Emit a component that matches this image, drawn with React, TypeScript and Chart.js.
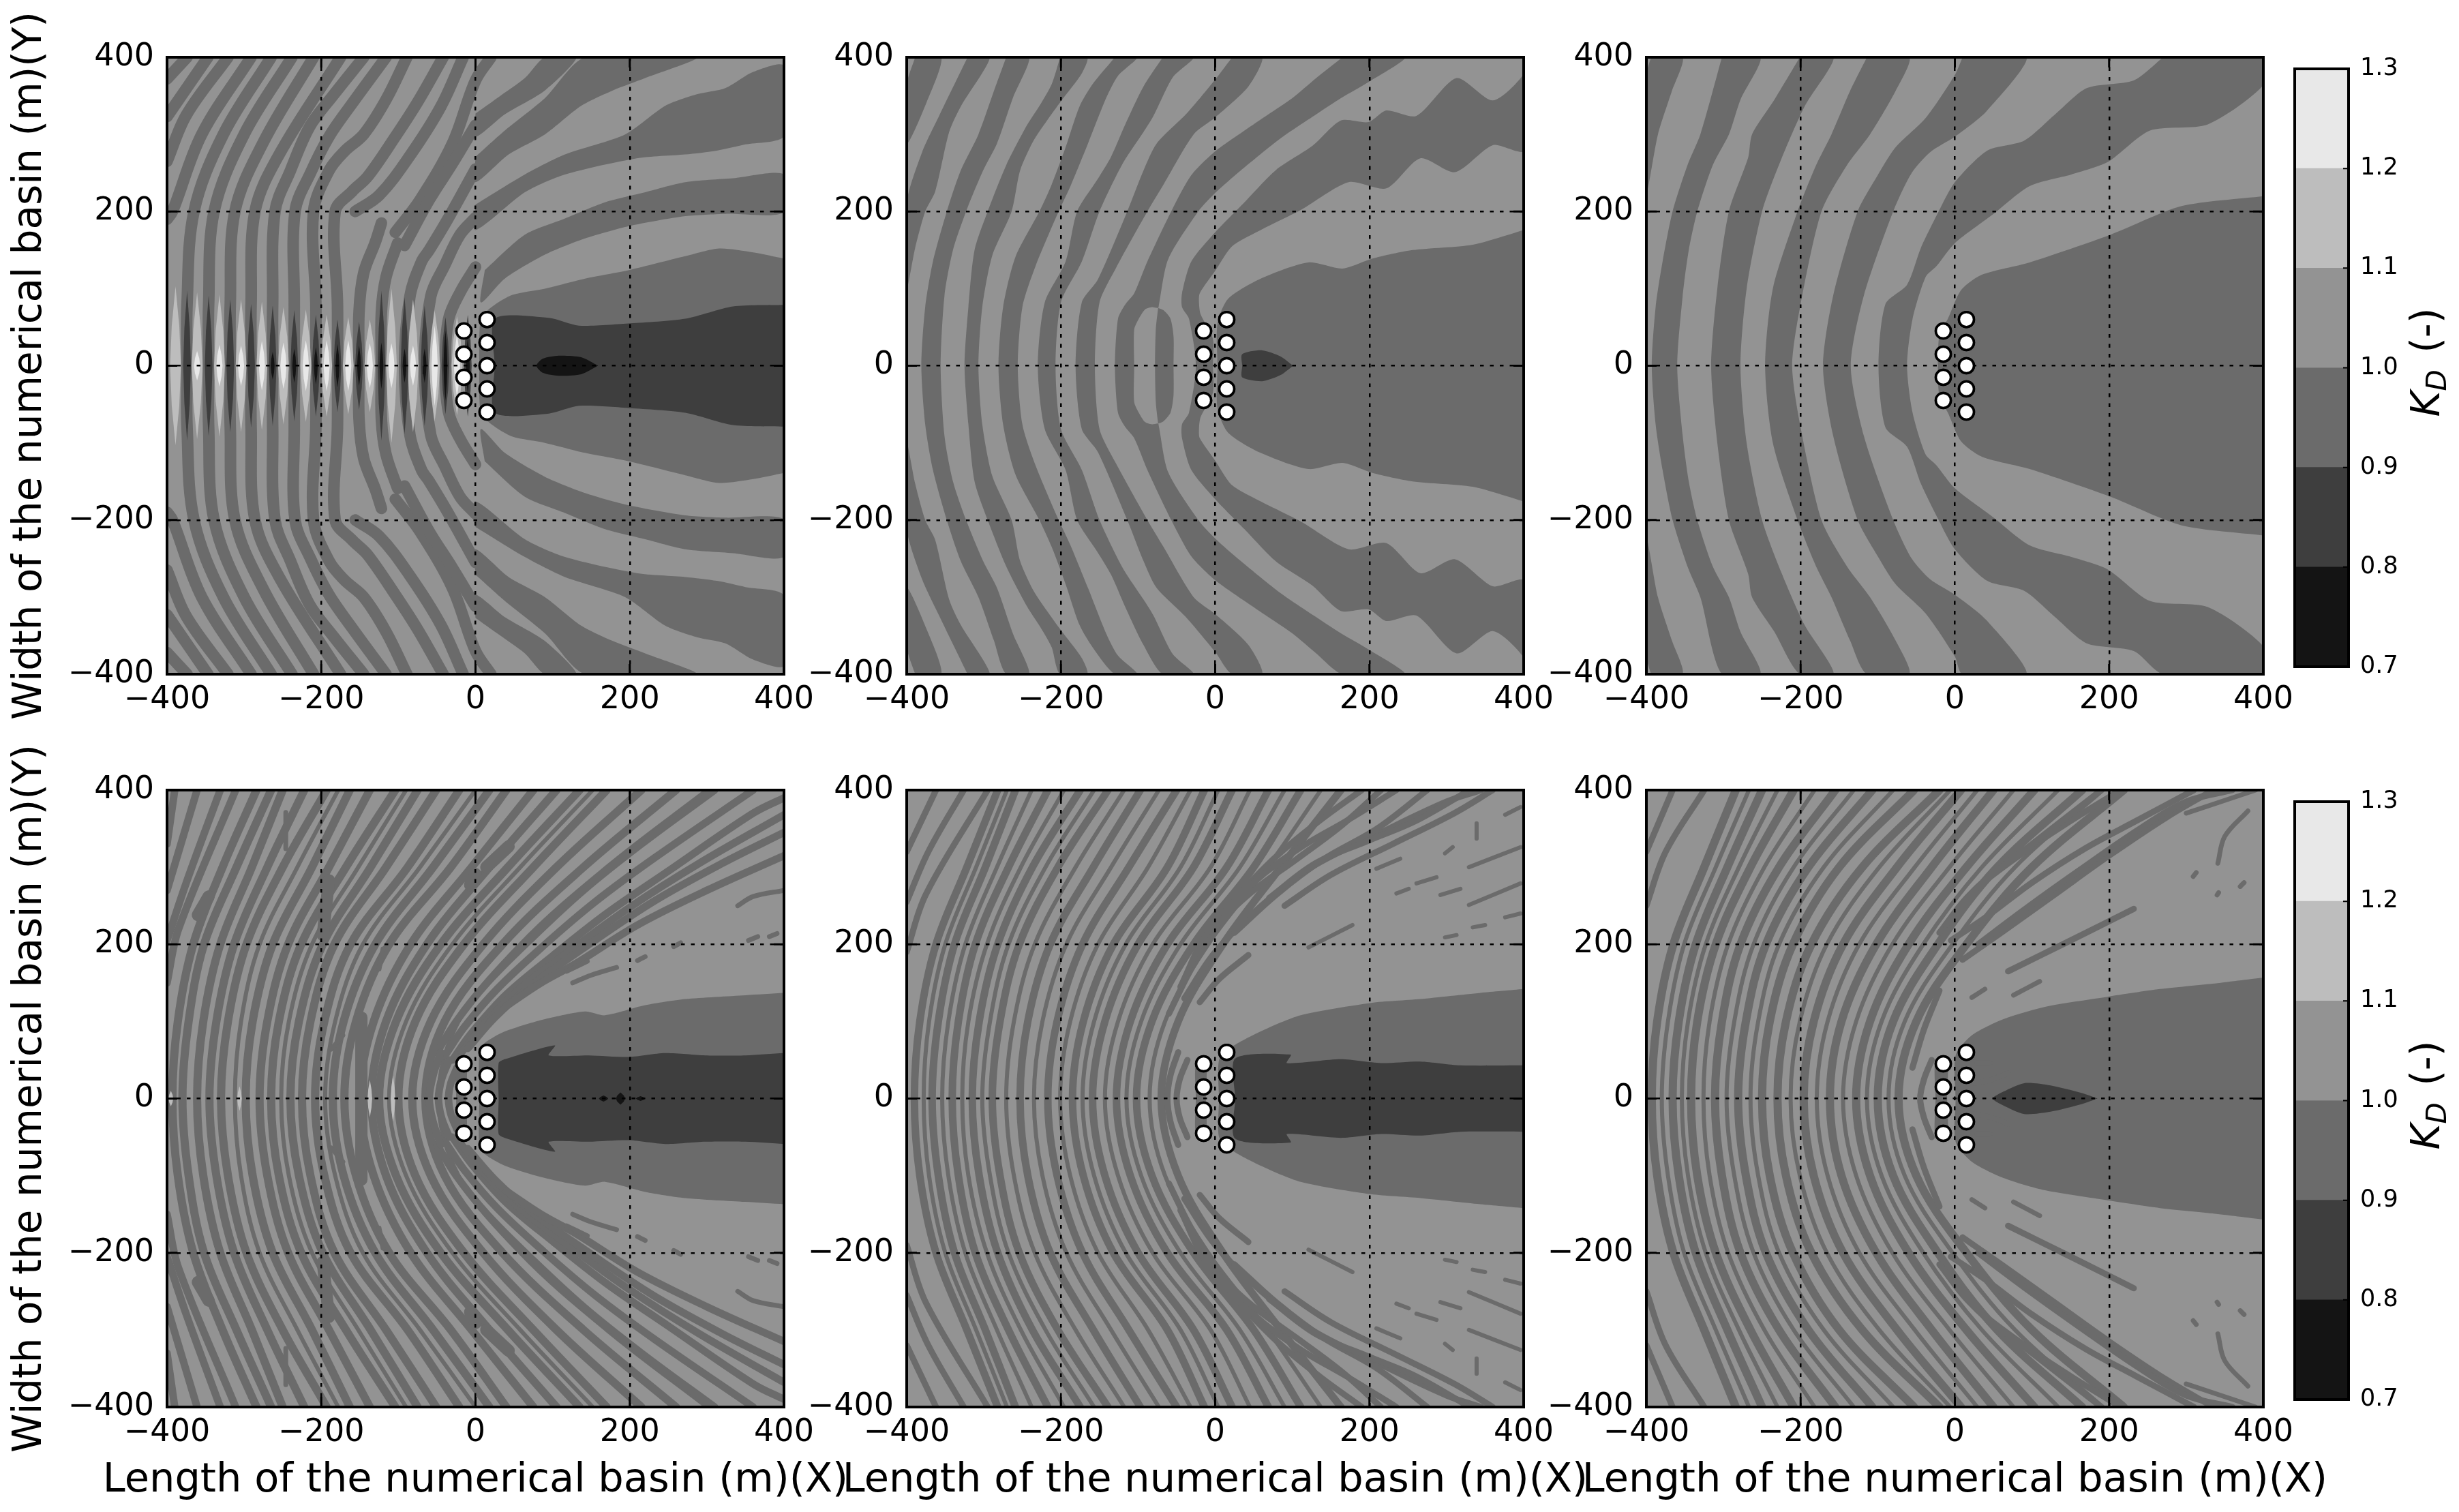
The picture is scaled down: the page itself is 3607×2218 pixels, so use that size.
import { useEffect, useRef } from "react"
import { Chart, registerables } from "chart.js"

Chart.register(...registerables)

type Pt = number[]

// grey levels of the colour bar, low to high
const KD_EDGES = [0.7, 0.8, 0.9, 1.0, 1.1, 1.2, 1.3]
const KD_GREYS = ["#141414", "#3e3e3e", "#6b6b6b", "#939393", "#bdbdbd", "#e8e8e8"]
const AXIS_TICKS = [-400, -200, 0, 200, 400]
const KD_TICKS = [0.7, 0.8, 0.9, 1.0, 1.1, 1.2, 1.3]

const X_TITLE = "Length of the numerical basin (m)(X)"
const Y_TITLE = "Width of the numerical basin (m)(Y)"

// turbines
const TURBINES = [
  [-15, 45], [-15, 15], [-15, -15], [-15, -45],
  [15, 60], [15, 30], [15, 0], [15, -30], [15, -60],
]

// upper half only, the field is symmetric about y = 0
// panel 3: left edge / right edge of each dark band
const P3_BANDS: Pt[][][] = [
  [[[-394, 400], [-400, 377]], [[-353, 400], [-367, 356], [-385, 300], [-400, 224]]],
  [[[-393, 0], [-388, 76], [-379, 135], [-366, 200], [-346, 262], [-330, 300], [-302, 400]],
   [[-360, 0], [-353, 90], [-345, 150], [-334, 200], [-314, 260], [-293, 300], [-278, 345], [-252, 400]]],
  [[[-316, 0], [-308, 100], [-293, 200], [-268, 270], [-263, 300], [-234, 345], [-201, 400]],
   [[-278, 0], [-270, 100], [-250, 200], [-225, 268], [-195, 336], [-157, 400]]],
  [[[-246, 0], [-236, 100], [-204, 200], [-180, 260], [-160, 300], [-136, 356], [-114, 400]],
   [[-211, 0], [-200, 80], [-173, 200], [-140, 260], [-110, 300], [-77, 356], [-59, 400]]],
  [[[-171, 0], [-158, 90], [-126, 200], [-100, 247], [-77, 283], [-38, 321], [0, 377], [10, 400]],
   [[-135, 0], [-118, 91], [-80, 200], [-56, 250], [-32, 277], [0, 297], [41, 330], [93, 400]]],
  [[[-99, 0], [-90, 80], [-62, 105], [-44, 153], [-21, 200], [0, 238], [42, 279], [90, 292], [130, 326], [171, 360], [232, 370], [270, 400]],
   [[-62, 0], [-55, 60], [-38, 115], [-24, 129], [0, 159], [49, 196], [97, 233], [151, 248], [198, 264], [253, 305], [328, 313], [400, 364], [400, 400]]],
  [[[-22, 0], [-20, 40], [-9, 61], [8, 98], [35, 118], [97, 134], [202, 170], [294, 207], [400, 220]], [[400, 0], [400, 220]]],
]

// panel 2
const P2_BANDS: Pt[][][] = [
  [[[-389, 400], [-400, 365]], [[-355, 400], [-374, 342], [-400, 288]]],
  [[[-321, 400], [-358, 324], [-380, 277], [-400, 212]], [[-292, 400], [-330, 336], [-345, 303], [-363, 226], [-376, 200], [-389, 153], [-400, 100]]],
  [[[-381, 0], [-376, 76], [-366, 135], [-348, 200], [-330, 253], [-307, 300], [-287, 356], [-271, 400]],
   [[-356, 0], [-351, 91], [-340, 150], [-323, 200], [-301, 253], [-283, 288], [-262, 348], [-241, 400]]],
  [[[-325, 0], [-320, 76], [-312, 150], [-295, 200], [-271, 260], [-244, 312], [-226, 340], [-212, 365], [-201, 400]],
   [[-307, 0], [-302, 76], [-289, 143], [-264, 200], [-253, 253], [-236, 291], [-218, 318], [-200, 343], [-173, 379], [-166, 400]]],
  [[[-281, 0], [-275, 76], [-259, 141], [-228, 200], [-212, 235], [-194, 283], [-176, 336], [-159, 365], [-130, 400]],
   [[-256, 0], [-250, 76], [-233, 129], [-203, 200], [-188, 232], [-165, 288], [-141, 348], [-126, 376], [-101, 400]]],
  [[[-230, 0], [-221, 82], [-194, 135], [-179, 200], [-153, 241], [-135, 271], [-117, 312], [-93, 362], [-68, 400]],
   [[-207, 0], [-200, 82], [-173, 135], [-150, 200], [-120, 262], [-93, 303], [-80, 324], [-55, 374], [-28, 400]]],
  [[[-181, 0], [-173, 82], [-152, 112], [-114, 200], [-93, 253], [-76, 288], [-37, 327], [0, 371], [22, 400]],
   [[-156, 0], [-150, 82], [-129, 126], [-88, 200], [-67, 235], [-28, 300], [0, 322], [43, 362], [61, 400]]],
  [[[-130, 0], [-126, 61], [-117, 79], [-105, 94], [-88, 135], [-57, 200], [-31, 247], [0, 278], [38, 305], [69, 326], [100, 347], [131, 373], [165, 400]],
   [[-105, 0], [-105, 47], [-99, 61], [-91, 73], [-82, 76], [-74, 75], [-73, 79], [-61, 138], [-22, 200], [0, 224], [33, 253], [85, 295], [131, 326], [163, 347], [199, 368], [246, 400]]],
  [[[-78, 0], [-77, 47], [-74, 75]], [[-54, 0], [-54, 38], [-58, 61], [-67, 72], [-74, 75]]],
  [[[-25, 0], [-34, 61], [-43, 76], [-43, 94], [-31, 135], [0, 173], [38, 212], [79, 254], [126, 285], [163, 318], [199, 316], [222, 331], [261, 324], [313, 373], [360, 344], [400, 378], [400, 400]],
   [[-3, 0], [-3, 35], [-19, 67], [-21, 82], [-20, 94], [0, 123], [22, 155], [59, 176], [111, 202], [173, 238], [222, 230], [266, 269], [311, 251], [360, 286], [400, 279]]],
  [[[3, 0], [3, 55], [17, 87], [59, 113], [121, 134], [165, 126], [204, 139], [256, 150], [334, 157], [400, 176]], [[400, 0], [400, 176]]],
]
const P2_CORE: Pt[][][] = [
  [[[35, 0], [35, 15], [61, 20], [85, 12], [101, 0]], [[101, 0]]],
]

// panel 1: stripe centre lines on the left, bands on the right
const P1_STRIPES: Pt[][] = [
  [[-400, 372], [-374, 400]],
  [[-400, 323], [-347, 400]],
  [[-400, 265], [-375, 325], [-321, 400]],
  [[-400, 190], [-393, 200], [-355, 300], [-291, 400]],
  [[-374, 0], [-374, 80], [-365, 200], [-327, 300], [-265, 400]],
  [[-346, 0], [-346, 80], [-339, 200], [-300, 300], [-238, 400]],
  [[-318, 0], [-318, 80], [-312, 200], [-275, 290], [-210, 400]],
  [[-291, 0], [-291, 80], [-286, 200], [-254, 275], [-175, 400]],
  [[-263, 0], [-263, 80], [-260, 200], [-240, 253], [-215, 310], [-185, 350], [-145, 400]],
  [[-235, 0], [-235, 80], [-234, 200], [-214, 250], [-190, 297], [-160, 340], [-116, 400]],
  [[-207, 0], [-207, 80], [-210, 200], [-190, 253], [-170, 278], [-145, 300], [-116, 345], [-89, 400]],
  [[-179, 0], [-179, 80], [-182, 200], [-160, 226], [-140, 245], [-104, 297], [-75, 342], [-42, 400]],
  [[-151, 0], [-151, 70], [-145, 120], [-130, 160], [-122, 185]],
  [[-122, 0], [-122, 70], [-116, 115], [-101, 159]],
  [[-156, 200], [-125, 221], [-86, 271], [-45, 336], [-16, 400]],
  [[-104, 173], [-72, 215], [-30, 288], [0, 370], [20, 400]],
  [[-92, 156], [-60, 215], [-30, 262], [0, 312]],
  [[-92, 0], [-85, 90], [-70, 135], [-60, 150], [-36, 190], [0, 255]],
  [[-66, 0], [-58, 90], [-40, 130], [-20, 170], [0, 192]],
  [[-39, 0], [-35, 60], [-20, 95], [0, 128]],
]
const P1_BANDS: Pt[][][] = [
  [[[0, 327], [28, 347], [64, 373], [90, 400]], [[0, 297], [38, 326], [90, 357], [131, 400]]],
  [[[0, 271], [38, 305], [90, 347], [142, 400]], [[0, 238], [43, 274], [90, 300], [137, 337], [178, 357], [220, 373], [287, 400]]],
  [[[0, 209], [64, 248], [116, 274], [194, 300], [246, 337], [287, 352], [324, 360], [360, 381], [400, 389]],
   [[0, 176], [64, 225], [116, 248], [209, 269], [272, 274], [313, 279], [350, 287], [400, 298]]],
  [[[12, 124], [64, 170], [116, 191], [168, 212], [220, 225], [272, 238], [334, 243], [400, 248]],
   [[7, 82], [38, 113], [90, 144], [142, 165], [199, 181], [272, 194], [324, 197], [400, 199]]],
  [[[5, 0], [7, 61], [22, 77], [48, 92], [90, 100], [142, 113], [199, 124], [272, 142], [316, 152], [360, 147], [400, 139]], [[400, 0], [400, 139]]],
]
const P1_WAKE: Pt[][][] = [
  [[[25, 0], [25, 61], [95, 62], [134, 52], [201, 55], [272, 61], [334, 77], [400, 79]], [[400, 0], [400, 79]]],
]
const P1_CORE: Pt[][][] = [
  [[[79, 0], [87, 9], [108, 13], [137, 11], [159, 0]], [[159, 0]]],
]
// interference spindles on the weather side of panel 1: centre x, tip y
const P1_LIGHT_X = [-389, -361, -332, -304, -277, -249, -220, -193, -165, -137, -109, -81, -53, -24]
const P1_LIGHT_TIP = [103, 95, 92, 86, 83, 76, 73, 66, 63, 60, 100, 86, 72, 64]
const P1_WHITE_X = [-361, -332, -304, -277, -249, -220, -193, -165, -137, -109, -81, -53, -24]
const P1_WHITE_TIP = [19, 27, 26, 32, 30, 33, 33, 33, 29, 29, 26, 52, 41]
const P1_DARK_X = [-374, -346, -318, -291, -263, -235, -207, -179, -151, -122, -92, -66, -39, -10]
const P1_DARK_TIP = [97, 91, 86, 80, 78, 72, 66, 60, 57, 97, 89, 78, 63, 66]
const P1_BLACK_X = [-263, -235, -207, -179, -151, -122, -92, -66, -39, -10]
const P1_BLACK_TIP = [18, 22, 24, 28, 26, 30, 22, 22, 45, 36]

// bottom row: x of a stripe where it crosses y = 0, 100, 200, 300, 400
const ROW_Y = [0, 100, 200, 300, 400]
const P4_ROWS = [
  [-393, -386, -366, -328, -284],
  [-380, -372, -352, -310, -265],
  [-361, -353, -331, -290, -250],
  [-345, -336, -313, -270, -222],
  [-330, -321, -297, -250, -193],
  [-298, -289, -263, -212, -163],
  [-280, -270, -243, -190, -137],
  [-265, -255, -226, -168, -104],
  [-240, -229, -198, -136, -75],
  [-225, -214, -183, -116, -51],
  [-208, -196, -162, -88, -21],
  [-185, -171, -130, -55, 18],
  [-170, -155, -112, -32, 40],
  [-150, -132, -84, -5, 75],
  [-135, -116, -63, 18, 105],
  [-125, -103, -45, 42, 135],
  [-100, -78, -15, 75, 170],
  [-82, -58, 10, 105, 215],
  [-65, -40, 35, 140, 260],
]
const P4_THIN_ROWS = [
  [-312, -304, -280, -231, -178],
  [-252, -242, -212, -152, -90],
  [-195, -182, -146, -72, 0],
  [-112, -90, -30, 58, 152],
  [-48, -22, 58, 170, 300],
]
const P4_FAN: Pt[][] = [
  [[-400, 330], [-390, 400]],
  [[-400, 270], [-361, 400]],
  [[-400, 205], [-375, 280], [-331, 400]],
  [[-400, 150], [-385, 220], [-311, 400]],
  [[-50, 60], [-25, 100], [15, 150], [75, 210], [140, 270], [215, 330], [310, 400]],
  [[-40, 55], [-15, 92], [28, 142], [88, 198], [155, 255], [232, 312], [360, 400]],
  [[-30, 50], [-5, 85], [40, 135], [100, 185], [170, 240], [250, 295], [360, 370], [400, 390]],
  [[-18, 60], [10, 95], [55, 140], [120, 190], [200, 248], [290, 305], [400, 368]],
  [[-10, 65], [25, 105], [70, 145], [140, 195], [230, 255], [320, 305], [400, 345]],
  [[40, 120], [85, 150], [130, 175], [210, 225], [300, 270], [400, 315]],
  [[-60, 0], [-55, 30], [-45, 60]],
  [[-48, 0], [-44, 25], [-34, 50]],
  [[-35, 0], [-32, 20], [-24, 40]],
]
const P4_DASHES: Pt[][] = [
  [[126, 150], [150, 160], [183, 170]],
  [[118, 165], [145, 178]],
  [[210, 179], [220, 184]],
  [[257, 197], [266, 202]],
  [[354, 205], [366, 210]],
  [[381, 210], [391, 214]],
  [[340, 250], [360, 262], [400, 270]],
  [[-246, 324], [-246, 371]],
  [[-187, 64], [-172, 82]],
  [[-125, 168], [-120, 194]],
]
const P4_THICK: Pt[][] = [
  [[-360, 238], [-346, 262]],
  [[-198, 212], [-190, 283]],
  [[-148, 0], [-148, 105]],
  [[-7, 277], [0, 291]],
  [[14, 300], [43, 327]],
]
const P4_WAKE_A: Pt[][][] = [
  [[[-25, 0], [-25, 50], [-12, 55], [-12, 0]], [[-12, 0]]],
  [[[5, 0], [5, 60], [12, 72], [38, 87], [90, 103], [142, 113], [168, 108], [220, 121], [272, 129], [350, 134], [400, 137]], [[400, 0], [400, 137]]],
]
const P4_WAKE_B: Pt[][][] = [
  [[[30, 0], [30, 46], [38, 51], [103, 69], [95, 56], [147, 56], [199, 54], [246, 59], [298, 56], [350, 56], [400, 59]], [[400, 0], [400, 59]]],
]

const P5_ROWS = [
  [-390, -383, -362, -322, -282],
  [-367, -359, -338, -298, -259],
  [-341, -333, -311, -268, -217],
  [-315, -306, -282, -237, -175],
  [-289, -279, -254, -204, -139],
  [-253, -243, -214, -158, -97],
  [-217, -205, -172, -112, -50],
  [-185, -171, -132, -62, -14],
  [-159, -143, -100, -28, 22],
  [-128, -110, -62, 15, 69],
  [-102, -82, -28, 50, 111],
  [-70, -48, 10, 85, 163],
]
const P5_THIN_ROWS = [
  [-378, -371, -350, -310, -270],
  [-354, -346, -324, -283, -238],
  [-328, -320, -296, -252, -196],
  [-302, -292, -268, -220, -157],
  [-271, -261, -234, -181, -118],
  [-235, -224, -193, -135, -73],
  [-201, -188, -152, -87, -32],
  [-172, -157, -116, -45, 4],
  [-143, -126, -81, -6, 45],
  [-115, -96, -45, 32, 90],
  [-85, -65, -9, 68, 137],
]
const P5_FAN: Pt[][] = [
  [[-400, 320], [-362, 400]],
  [[-400, 255], [-372, 320], [-326, 400]],
  [[-400, 190], [-375, 265], [-295, 400]],
  [[-60, 110], [-30, 170], [20, 250], [75, 310], [135, 360], [190, 400]],
  [[-45, 145], [-10, 215], [50, 280], [110, 325], [170, 360], [235, 400]],
  [[-40, 130], [0, 190], [60, 250], [125, 300], [215, 345], [300, 385], [345, 400]],
  [[0, 225], [50, 270], [105, 310], [165, 355], [215, 400]],
  [[25, 215], [80, 265], [140, 310], [210, 350], [275, 400]],
  [[70, 260], [130, 305], [200, 335], [260, 360], [330, 400]],
  [[90, 250], [150, 290], [230, 330], [310, 370], [360, 400]],
  [[-20, 125], [5, 155], [43, 186]],
  [[-50, 0], [-46, 25], [-36, 50]],
  [[-62, 0], [-58, 30], [-48, 60]],
]
const P5_DASHES: Pt[][] = [
  [[121, 196], [178, 225]],
  [[298, 209], [313, 212]],
  [[334, 222], [350, 225]],
  [[376, 235], [396, 240]],
  [[329, 251], [396, 279]],
  [[292, 264], [318, 272]],
  [[235, 266], [251, 272]],
  [[261, 279], [287, 287]],
  [[209, 298], [240, 311]],
  [[329, 300], [396, 326]],
  [[298, 318], [308, 326]],
  [[339, 337], [339, 357]],
  [[376, 368], [396, 378]],
]
const P5_WAKE_A: Pt[][][] = [
  [[[-25, 0], [-25, 45], [-12, 50], [-12, 0]], [[-12, 0]]],
  [[[5, 0], [5, 50], [20, 66], [59, 87], [111, 108], [202, 124], [266, 129], [344, 137], [400, 142]], [[400, 0], [400, 142]]],
]
const P5_WAKE_B: Pt[][][] = [
  [[[26, 0], [26, 52], [98, 57], [93, 46], [163, 51], [215, 46], [266, 48], [318, 43], [400, 43]], [[400, 0], [400, 43]]],
]

const P6_ROWS = [
  [-393, -386, -365, -325, -284],
  [-366, -358, -336, -295, -250],
  [-342, -334, -310, -265, -209],
  [-311, -302, -278, -228, -155],
  [-281, -271, -245, -190, -107],
  [-250, -240, -210, -150, -53],
  [-230, -219, -186, -120, -20],
  [-196, -183, -145, -75, 8],
  [-162, -147, -102, -30, 50],
  [-128, -110, -60, 15, 103],
  [-100, -80, -22, 55, 165],
  [-73, -50, 15, 100, 219],
]
const P6_THIN_ROWS = [
  [-380, -372, -351, -310, -267],
  [-354, -346, -323, -280, -230],
  [-326, -318, -294, -247, -182],
  [-296, -286, -261, -209, -131],
  [-265, -255, -228, -170, -80],
  [-213, -201, -166, -98, -6],
  [-179, -165, -124, -52, 29],
  [-145, -128, -81, -7, 76],
  [-114, -95, -41, 35, 134],
  [-86, -65, -3, 78, 192],
]
const P6_FAN: Pt[][] = [
  [[-400, 320], [-366, 400]],
  [[-400, 250], [-375, 320], [-325, 400]],
  [[-20, 215], [20, 265], [90, 320], [150, 360], [215, 400]],
  [[-12, 225], [30, 275], [100, 330], [190, 400]],
  [[-5, 205], [40, 235], [100, 280], [170, 325], [235, 360], [310, 400]],
  [[10, 180], [60, 215], [130, 265], [200, 315], [275, 365], [335, 400]],
  [[30, 200], [90, 245], [160, 295], [240, 350], [300, 385], [360, 400]],
  [[69, 165], [150, 205], [232, 246]],
  [[-55, 40], [-40, 90], [-20, 140]],
  [[-45, 0], [-40, 25], [-30, 50]],
]
const P6_DASHES: Pt[][] = [
  [[22, 131], [39, 142]],
  [[76, 134], [110, 152]],
  [[300, 370], [345, 385], [390, 400]],
  [[341, 305], [350, 340], [380, 373]],
  [[370, 275], [375, 280]],
  [[340, 264], [342, 267]],
  [[309, 288], [313, 293]],
]
const P6_WAKE_A: Pt[][][] = [
  [[[-25, 0], [-25, 50], [-10, 55], [-10, 0]], [[-10, 0]]],
  [[[1, 0], [1, 56], [22, 82], [63, 103], [117, 119], [198, 132], [266, 142], [334, 149], [400, 157]], [[400, 0], [400, 157]]],
]
const P6_WAKE_B: Pt[][][] = [
  [[[49, 0], [63, 9], [90, 20], [124, 17], [165, 7], [185, 0]], [[185, 0]]],
]
const P6_FINGERS: Pt[][] = [
  [[25, 20], [49, 25], [69, 33]],
  [[29, 46], [45, 46]],
]
// small light and black marks in the bottom row: x, tip y
const P4_LIGHT_X = [-306, -137, -107, -395]
const P4_LIGHT_TIP = [16, 24, 30, 10]
const P4_BLACK_X = [166, 188, 214]
const P4_BLACK_TIP = [4, 8, 3]

const flip = (p: Pt) => [p[0], -p[1]]
const rev = (a: Pt[]) => [...a].reverse()
const xy = (a: Pt[]) => a.map((p) => ({ x: p[0], y: p[1] }))

function areaSet(pts: Pt[], color: string) {
  return {
    data: xy(pts),
    showLine: true,
    fill: "shape",
    backgroundColor: color,
    borderColor: color,
    borderWidth: 0,
    pointRadius: 0,
    tension: 0.25,
    clip: 0,
  }
}

function strokeSet(pts: Pt[], color: string, width: number) {
  return {
    data: xy(pts),
    showLine: true,
    fill: false,
    borderColor: color,
    borderWidth: width,
    borderCapStyle: "round",
    borderJoinStyle: "round",
    pointRadius: 0,
    tension: 0.35,
    clip: 0,
  }
}

function bandSets(bands: Pt[][][], color: string) {
  const out: any[] = []
  for (const [l, r] of bands) {
    if (l[0][1] === 0) {
      const path = [...rev(l), ...l.slice(1).map(flip), ...rev(r.slice(1)).map(flip), ...r]
      path.push(path[0])
      out.push(areaSet(path, color))
    } else {
      const path = [...l, ...rev(r)]
      path.push(path[0])
      out.push(areaSet(path, color), areaSet(path.map(flip), color))
    }
  }
  return out
}

function lineSets(paths: Pt[][], color: string, width: number) {
  const out: any[] = []
  for (const p of paths) {
    if (p[0][1] === 0) out.push(strokeSet([...rev(p), ...p.slice(1).map(flip)], color, width))
    else out.push(strokeSet(p, color, width), strokeSet(p.map(flip), color, width))
  }
  return out
}

const rowPaths = (rows: number[][]) => rows.map((r) => r.map((x, i) => [x, ROW_Y[i]]))

function spindles(xs: number[], tips: number[], halfWidth: number, color: string) {
  return xs.map((x, i) => {
    const t = tips[i]
    const set = areaSet(
      [
        [x - halfWidth, 0], [x - halfWidth * 0.7, t * 0.5], [x, t], [x + halfWidth * 0.7, t * 0.5], [x + halfWidth, 0],
        [x + halfWidth * 0.7, -t * 0.5], [x, -t], [x - halfWidth * 0.7, -t * 0.5], [x - halfWidth, 0],
      ],
      color,
    )
    set.tension = 0
    return set
  })
}

const [G7, G8, G9, , G11, G12] = KD_GREYS

const PANEL_SETS: (() => any[])[] = [
  () => [
    ...lineSets(P1_STRIPES, G9, 17),
    ...bandSets(P1_BANDS, G9),
    ...bandSets(P1_WAKE, G8),
    ...bandSets(P1_CORE, G7),
    ...spindles(P1_LIGHT_X, P1_LIGHT_TIP, 7, G11),
    ...spindles(P1_WHITE_X, P1_WHITE_TIP, 4, G12),
    ...spindles(P1_DARK_X, P1_DARK_TIP, 5, G8),
    ...spindles(P1_BLACK_X, P1_BLACK_TIP, 2.5, G7),
  ],
  () => [...bandSets(P2_BANDS, G9), ...bandSets(P2_CORE, G8)],
  () => bandSets(P3_BANDS, G9),
  () => [
    ...lineSets(rowPaths(P4_ROWS), G9, 12),
    ...lineSets(rowPaths(P4_THIN_ROWS), G9, 6),
    ...lineSets(P4_FAN, G9, 11),
    ...lineSets(P4_DASHES, G9, 7),
    ...lineSets(P4_THICK, G9, 18),
    ...bandSets(P4_WAKE_A, G9),
    ...bandSets(P4_WAKE_B, G8),
    ...spindles(P4_LIGHT_X, P4_LIGHT_TIP, 3, G11),
    ...spindles(P4_BLACK_X, P4_BLACK_TIP, 6, G7),
  ],
  () => [
    ...lineSets(rowPaths(P5_ROWS), G9, 11),
    ...lineSets(rowPaths(P5_THIN_ROWS), G9, 6),
    ...lineSets(P5_FAN, G9, 9),
    ...lineSets(P5_DASHES, G9, 6),
    ...bandSets(P5_WAKE_A, G9),
    ...bandSets(P5_WAKE_B, G8),
  ],
  () => [
    ...lineSets(rowPaths(P6_ROWS), G9, 12),
    ...lineSets(rowPaths(P6_THIN_ROWS), G9, 6),
    ...lineSets(P6_FAN, G9, 9),
    ...lineSets(P6_DASHES, G9, 7),
    ...bandSets(P6_WAKE_A, G9),
    ...bandSets(P6_WAKE_B, G8),
    ...lineSets(P6_FINGERS, G9, 8),
  ],
]

// frame, inward ticks, pale field, x title, and turbines back on top of the grid
const panelDecor = {
  id: "panelDecor",
  beforeDatasetsDraw(chart: any) {
    const { ctx, chartArea: a } = chart
    ctx.save()
    ctx.fillStyle = KD_GREYS[3]
    ctx.fillRect(a.left, a.top, a.width, a.height)
    ctx.restore()
  },
  afterDraw(chart: any, _args: any, opts: any) {
    const { ctx, chartArea: a, scales } = chart
    const last = chart.data.datasets.length - 1
    chart.getDatasetMeta(last).controller.draw()
    ctx.save()
    ctx.strokeStyle = "#000"
    ctx.lineWidth = 3
    ctx.beginPath()
    for (const t of AXIS_TICKS) {
      const px = scales.x.getPixelForValue(t)
      const py = scales.y.getPixelForValue(t)
      ctx.moveTo(px, a.top)
      ctx.lineTo(px, a.top + 15)
      ctx.moveTo(px, a.bottom)
      ctx.lineTo(px, a.bottom - 15)
      ctx.moveTo(a.left, py)
      ctx.lineTo(a.left + 15, py)
      ctx.moveTo(a.right, py)
      ctx.lineTo(a.right - 15, py)
    }
    ctx.stroke()
    ctx.lineWidth = 4
    ctx.strokeRect(a.left, a.top, a.width, a.height)
    if (opts.xTitle) {
      ctx.fillStyle = "#000"
      ctx.font = '59px "DejaVu Sans"'
      ctx.textAlign = "center"
      ctx.textBaseline = "middle"
      ctx.fillText(opts.xTitle, (a.left + a.right) / 2, chart.height - 45)
    }
    ctx.restore()
  },
}

const barDecor = {
  id: "barDecor",
  afterDraw(chart: any) {
    const { ctx, chartArea: a, scales } = chart
    ctx.save()
    ctx.strokeStyle = "#000"
    ctx.lineWidth = 2
    ctx.beginPath()
    for (const t of KD_TICKS) {
      const py = scales.y.getPixelForValue(t)
      ctx.moveTo(a.right, py)
      ctx.lineTo(a.right - 8, py)
    }
    ctx.stroke()
    ctx.lineWidth = 4
    ctx.strokeRect(a.left, a.top, a.width, a.height)
    // K_D (-), reading upward
    const size = 58
    ctx.translate(a.right + 133, (a.top + a.bottom) / 2 + 72)
    ctx.rotate(-Math.PI / 2)
    ctx.fillStyle = "#000"
    ctx.textBaseline = "alphabetic"
    ctx.font = `italic ${size}px "DejaVu Sans"`
    ctx.fillText("K", 0, 0)
    let w = ctx.measureText("K").width
    ctx.font = `italic ${size * 0.7}px "DejaVu Sans"`
    ctx.fillText("D", w, size * 0.17)
    w += ctx.measureText("D").width
    ctx.font = `${size}px "DejaVu Sans"`
    ctx.fillText(" (-)", w + 6, 0)
    ctx.restore()
  },
}

const PLOT_SIZE = 905
const PLOT_LEFTS = [245, 1330, 2415]
const PLOT_TOPS = [84, 1159]
const ROW_TOPS = [0, 1075]
const ROW_HEIGHTS = [1075, 1143]
const LEFT_GUTTER = 245
const RIGHT_GUTTER = 100

function ContourPanel({ index }: { index: number }) {
  const ref = useRef<HTMLCanvasElement>(null)
  const col = index % 3
  const row = index < 3 ? 0 : 1
  const width = LEFT_GUTTER + PLOT_SIZE + RIGHT_GUTTER
  const height = ROW_HEIGHTS[row]
  const topPad = PLOT_TOPS[row] - ROW_TOPS[row]

  useEffect(() => {
    if (!ref.current) return
    const sets = PANEL_SETS[index]()
    const datasets = [
      ...sets,
      {
        data: xy(TURBINES),
        showLine: false,
        pointRadius: 11,
        pointBackgroundColor: "#fff",
        pointBorderColor: "#000",
        pointBorderWidth: 3.5,
        clip: false,
      },
    ].map((d, i) => ({ ...d, order: -i }))
    const tickLabel = (v: any) => (v < 0 ? "\u2212" : "") + Math.abs(v)
    const grid = { z: 1, color: "#000", lineWidth: 2.5, drawTicks: false }
    const chart = new Chart(ref.current, {
      type: "scatter",
      data: { datasets },
      plugins: [panelDecor],
      options: {
        responsive: false,
        animation: false,
        events: [],
        layout: { padding: { top: topPad, right: RIGHT_GUTTER, left: 0, bottom: 0 } },
        plugins: {
          legend: { display: false },
          tooltip: { enabled: false },
          panelDecor: { xTitle: row === 1 ? X_TITLE : "" },
        },
        scales: {
          x: {
            type: "linear",
            min: -400,
            max: 400,
            afterFit: (s: any) => { s.height = height - topPad - PLOT_SIZE },
            grid,
            border: { display: false, dash: [5.5, 9] },
            afterBuildTicks: (s: any) => { s.ticks = AXIS_TICKS.map((value) => ({ value })) },
            ticks: {
              callback: tickLabel,
              color: "#000",
              maxRotation: 0,
              autoSkip: false,
              padding: 10,
              font: { family: "DejaVu Sans", size: 46 },
            },
          },
          y: {
            type: "linear",
            min: -400,
            max: 400,
            afterFit: (s: any) => { s.width = LEFT_GUTTER },
            grid,
            border: { display: false, dash: [5.5, 9] },
            afterBuildTicks: (s: any) => { s.ticks = AXIS_TICKS.map((value) => ({ value })) },
            ticks: {
              callback: tickLabel,
              color: "#000",
              autoSkip: false,
              padding: 19,
              font: { family: "DejaVu Sans", size: 46 },
            },
            title: {
              display: col === 0,
              text: Y_TITLE,
              color: "#000",
              padding: { top: 10, bottom: 0 },
              font: { family: "DejaVu Sans", size: 58 },
            },
          },
        },
      },
    } as any)
    return () => chart.destroy()
  }, [])

  return (
    <canvas
      ref={ref}
      width={width}
      height={height}
      style={{ position: "absolute", left: PLOT_LEFTS[col] - LEFT_GUTTER, top: ROW_TOPS[row] }}
    />
  )
}

const BAR_TOPS = [101, 1176]
const BAR_HEIGHT = 877
const BAR_LEFT = 3366
const BAR_WIDTH = 79

function KdColorBar({ row }: { row: number }) {
  const ref = useRef<HTMLCanvasElement>(null)
  const pad = 50
  const width = 3607 - BAR_LEFT + 20
  const height = BAR_HEIGHT + pad * 2

  useEffect(() => {
    if (!ref.current) return
    const chart = new Chart(ref.current, {
      type: "bar",
      data: {
        labels: ["K"],
        datasets: KD_GREYS.map((color, i) => ({
          data: [[KD_EDGES[i], KD_EDGES[i + 1]]],
          backgroundColor: color,
          barPercentage: 1,
          categoryPercentage: 1,
          grouped: false,
        })),
      },
      plugins: [barDecor],
      options: {
        responsive: false,
        animation: false,
        events: [],
        layout: { padding: { left: 20, top: pad, bottom: pad, right: 0 } },
        plugins: { legend: { display: false }, tooltip: { enabled: false } },
        scales: {
          x: { display: false },
          y: {
            position: "right",
            min: 0.7,
            max: 1.3,
            afterFit: (s: any) => { s.width = width - 20 - BAR_WIDTH },
            grid: { display: false, drawTicks: false },
            border: { display: false },
            afterBuildTicks: (s: any) => { s.ticks = KD_TICKS.map((value) => ({ value })) },
            ticks: {
              callback: (v: any) => Number(v).toFixed(1),
              color: "#000",
              padding: 17,
              font: { family: "DejaVu Sans", size: 35 },
            },
          },
        },
      },
    } as any)
    return () => chart.destroy()
  }, [])

  return (
    <canvas
      ref={ref}
      width={width}
      height={height}
      style={{ position: "absolute", left: BAR_LEFT - 20, top: BAR_TOPS[row] - pad }}
    />
  )
}

export default function App() {
  return (
    <div style={{ position: "fixed", left: 0, top: 0, width: 3607, height: 2218, background: "#fff", overflow: "hidden" }}>
      {[0, 1, 2, 3, 4, 5].map((i) => (
        <ContourPanel key={i} index={i} />
      ))}
      <KdColorBar row={0} />
      <KdColorBar row={1} />
    </div>
  )
}
